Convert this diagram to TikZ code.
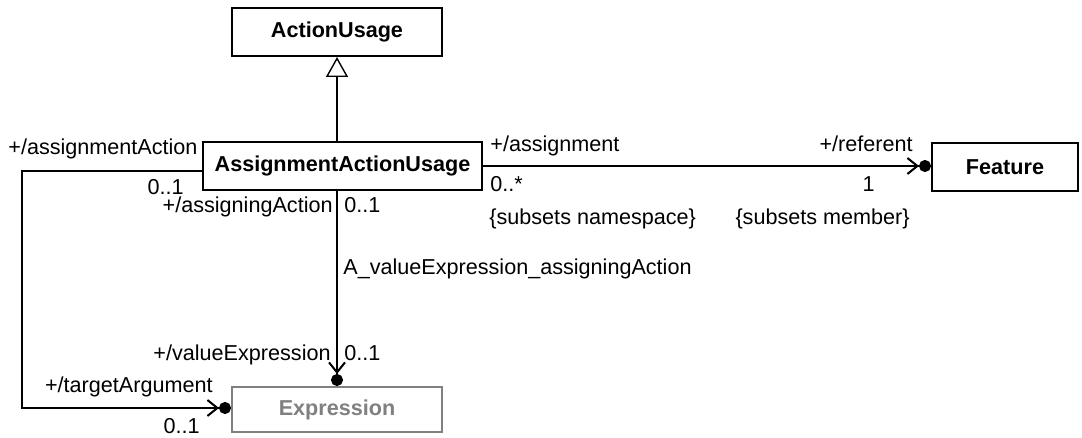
\documentclass[tikz,border=0pt]{standalone}
\usepackage{fontspec}
\setmainfont{Liberation Sans}
\usetikzlibrary{arrows.meta,positioning}
\usepackage{xcolor}
\definecolor{greyedout}{RGB}{128,128,128}
\newcommand\umlfont{\fontsize{10.8}{13}\selectfont}

\tikzset{
    classbox/.style={draw, rectangle, line width=1pt, inner sep=0pt, font=\umlfont\bfseries},
    rolename/.style={inner sep=0pt, font=\umlfont},
    association/.style={line width=1pt, -{Straight Barb[length=5pt,width=8pt] Circle[length=6pt]}},
    generalization/.style={line width=1pt, -{Triangle[open, length=10pt, width=11pt, line width=0.7pt, fill=white]}}
}

\begin{document}
\begin{tikzpicture}[x=0.5pt, y=-0.5pt]
    \useasboundingbox (0,0) rectangle (1082,438);

    % classes
    \node[classbox, minimum width=105pt, minimum height=24pt] (actionusage) at (337,32) {ActionUsage};
    \node[classbox, minimum width=139.5pt, minimum height=24pt] (assignmentusage) at (342.5,166) {AssignmentActionUsage};
    \node[classbox, minimum width=73pt, minimum height=24pt] (feature) at (1005,167) {Feature};
    \node[classbox, draw=greyedout, text=greyedout, minimum width=105pt, minimum height=22.5pt] (expression) at (337,409.5) {Expression};

    % connectors
    \coordinate (loopleft) at (22,0);
    \draw[generalization] (assignmentusage.north -| actionusage.south) -- (actionusage.south);
    \draw[association] (assignmentusage.east) -- (assignmentusage.east -| feature.west);
    \draw[association] (assignmentusage.south -| expression.north) -- (expression.north);
    \draw[association] ([yshift=-2.5pt]assignmentusage.west) -- ([yshift=-2.5pt]assignmentusage.west -| loopleft) |- ([yshift=0.75pt]expression.west);

    % role names and multiplicities
    \node[rolename, anchor=base west] (assignactionrole) at (8,155) {+/assignmentAction};
    \node[rolename, anchor=base east] (assignactionmult) at (184,195) {0..1};
    \node[rolename, anchor=base east] (assigningrole) at (333,213) {+/assigningAction};
    \node[rolename, anchor=base west] (assigningmult) at (344,213) {0..1};
    \node[rolename, anchor=base west] (assocname) at (343,275) {A\_valueExpression\_assigningAction};
    \node[rolename, anchor=base east] (valuerole) at (331,361) {+/valueExpression};
    \node[rolename, anchor=base west] (valuemult) at (344,360) {0..1};
    \node[rolename, anchor=base east] (targetrole) at (213,393) {+/targetArgument};
    \node[rolename, anchor=base east] (targetmult) at (200,433) {0..1};
    \node[rolename, anchor=base west] (assignmentrole) at (490,152) {+/assignment};
    \node[rolename, anchor=base west] (assignmentmult) at (490,192) {0..*};
    \node[rolename, anchor=base west] (namespacenote) at (489,225) {\{subsets namespace\}};
    \node[rolename, anchor=base east] (referentrole) at (913,152) {+/referent};
    \node[rolename, anchor=base east] (referentmult) at (875,192) {1};
    \node[rolename, anchor=base east] (membernote) at (910,225) {\{subsets member\}};
\end{tikzpicture}
\end{document}
